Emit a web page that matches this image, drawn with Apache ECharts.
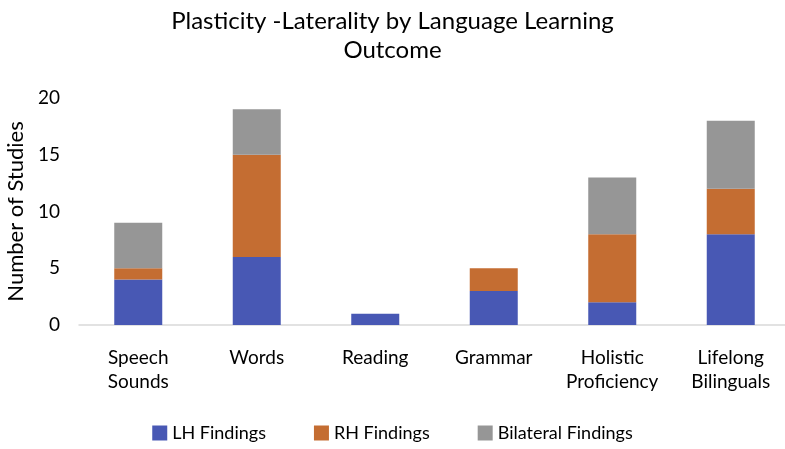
<!DOCTYPE html>
<html><head><meta charset="utf-8">
<script src="https://cdn.jsdelivr.net/npm/echarts@6/dist/echarts.min.js"></script>
<style>html,body{margin:0;padding:0;background:#fff}#c{width:785px;height:449px}</style>
</head><body><div id="c"></div>
<script>
const categories = ['Speech\nSounds', 'Words', 'Reading', 'Grammar', 'Holistic\nProficiency', 'Lifelong\nBilinguals'];
const lhFindings = [4, 6, 1, 3, 2, 8];
const rhFindings = [1, 9, 0, 2, 6, 4];
const bilateralFindings = [4, 4, 0, 0, 5, 6];
const yTicks = {min: 0, max: 20, interval: 5};
const font = 'Lato, "Open Sans", sans-serif';
const chart = echarts.init(document.getElementById('c'));
function s(name, data, color) {
  return {name, type: 'bar', stack: 'a', data, barWidth: 48,
    itemStyle: {color}, emphasis: {disabled: true}};
}
chart.setOption({
  animation: false,
  title: {text: 'Plasticity -Laterality by Language Learning\nOutcome', left: 'center', top: 2,
    padding: [5, 18, 5, 0],
    textStyle: {fontFamily: font, fontSize: 24, fontWeight: 'normal', color: '#000', lineHeight: 29}},
  legend: {bottom: 2, left: 'center', itemWidth: 15, itemHeight: 15, itemGap: 48, icon: 'rect',
    textStyle: {fontFamily: font, fontSize: 18, color: '#000'}},
  grid: {left: 79, width: 711, top: 98, bottom: 124, outerBoundsMode: 'none', containLabel: false},
  xAxis: {type: 'category', data: categories,
    axisLine: {lineStyle: {color: '#d9d9d9', width: 1.5}}, axisTick: {show: false},
    axisLabel: {fontFamily: font, fontSize: 19, color: '#000', lineHeight: 24, margin: 21, interval: 0}},
  yAxis: {type: 'value', min: yTicks.min, max: yTicks.max, interval: yTicks.interval,
    name: 'Number of Studies', nameLocation: 'middle', nameGap: 52,
    nameTextStyle: {fontFamily: font, fontSize: 22, color: '#000'},
    splitLine: {show: false}, axisLine: {show: false}, axisTick: {show: false},
    axisLabel: {fontFamily: font, fontSize: 19, color: '#000', margin: 19}},
  series: [s('LH Findings', lhFindings, '#4858b4'), s('RH Findings', rhFindings, '#c46d32'), s('Bilateral Findings', bilateralFindings, '#969696')]
});
</script></body></html>
